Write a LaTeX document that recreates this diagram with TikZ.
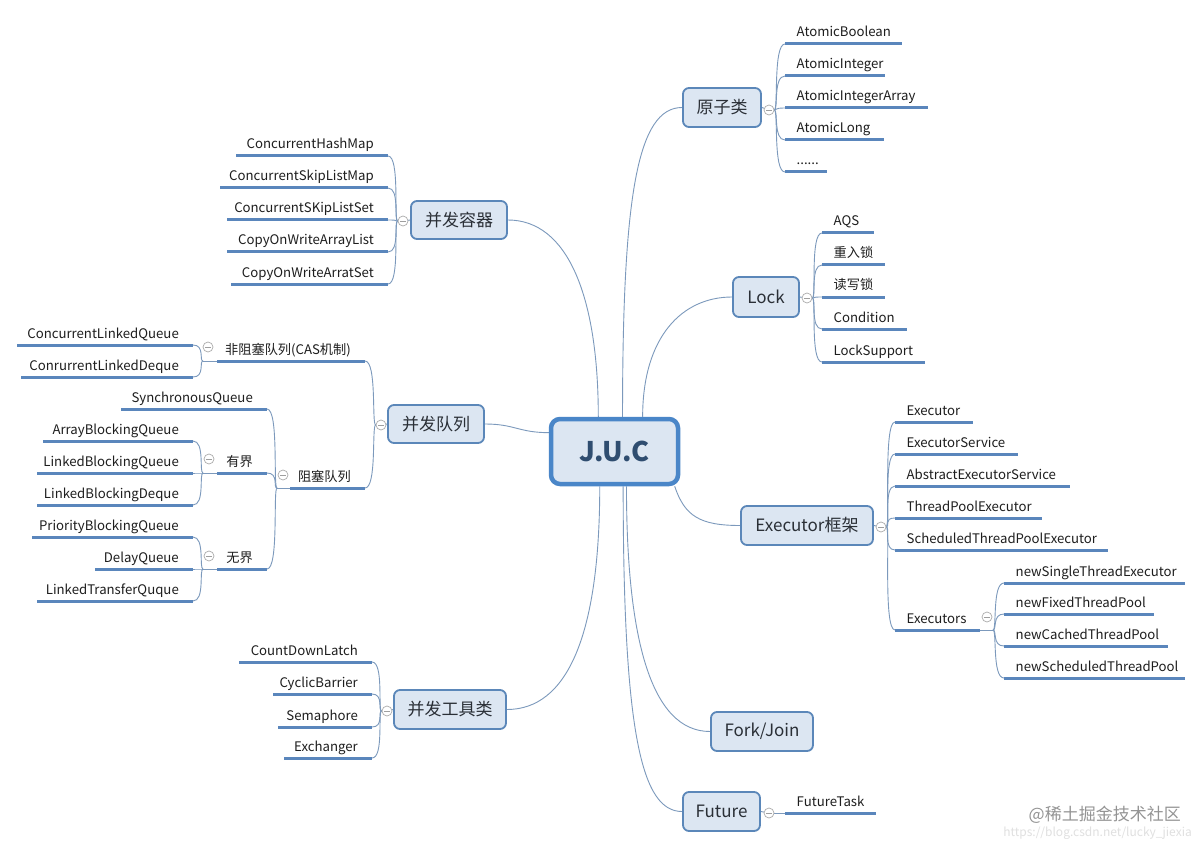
\documentclass[tikz,border=0pt]{standalone}
\usepackage{fontspec}
\setmainfont{Noto Sans CJK SC}
\usetikzlibrary{calc,backgrounds}
\definecolor{boxfill}{HTML}{DCE6F2}
\definecolor{boxdraw}{HTML}{5B87B9}
\definecolor{jucdraw}{HTML}{4A86C8}
\definecolor{leafc}{HTML}{5A86BC}
\definecolor{connc}{HTML}{7C99BC}
\definecolor{txt}{HTML}{1E1E1E}
\definecolor{boxtxt}{HTML}{2A2F36}
\definecolor{juctxt}{HTML}{2F4D70}
\tikzset{
 mainbox/.style={draw=boxdraw, fill=boxfill, line width=1.8pt, rounded corners=6pt, font=\fontsize{17}{20}\selectfont, text=boxtxt, inner sep=0pt},
 jucbox/.style={draw=jucdraw, fill=boxfill, line width=4.5pt, rounded corners=9pt, font=\fontsize{27}{30}\selectfont\bfseries, text=juctxt, inner sep=0pt},
 leafline/.style={draw=leafc, line width=3pt},
 leaftext/.style={font=\fontsize{13.2}{16}\selectfont, text=txt, inner sep=0pt},
 conn/.style={draw=connc, line width=0.9pt},
 collapse/.style={circle, draw=gray!65, fill=white, line width=0.7pt, minimum size=10pt, inner sep=0pt,
   path picture={\draw[gray!75, line width=0.7pt] ([xshift=-2.6pt]path picture bounding box.center) -- ([xshift=2.6pt]path picture bounding box.center);}},
}
\newcommand{\RLeaf}[5]{%
 \coordinate (#1-s) at (#2,#4);
 \coordinate (#1-e) at (#3,#4);
 \draw[leafline] (#1-s) -- (#1-e);
 \node[leaftext, anchor=base west] (#1) at ([shift={(11.5pt,7pt)}]#1-s) {#5};
}
\newcommand{\LLeaf}[5]{%
 \coordinate (#1-s) at (#2,#4);
 \coordinate (#1-e) at (#3,#4);
 \draw[leafline] (#1-s) -- (#1-e);
 \node[leaftext, anchor=base east] (#1) at ([shift={(-14pt,7pt)}]#1-e) {#5};
}
\newcommand{\RConn}[2]{\draw[conn] (#1) .. controls +(4,0) and +(-12,0) .. (#2);}
\newcommand{\LConn}[2]{\draw[conn] (#1) .. controls +(-4,0) and +(12,0) .. (#2);}
\begin{document}
\begin{tikzpicture}[x=1pt,y=-1pt]
\useasboundingbox (0,0) rectangle (1204,850);
% central and main boxes
\node[jucbox, minimum width=127pt, minimum height=65pt] (juc) at (614.5,451.5) {J.U.C};
\node[mainbox, minimum width=78pt, minimum height=39pt] (yz) at (722,107.5) {原子类};
\node[mainbox, minimum width=96pt, minimum height=38pt] (rq) at (459,220) {并发容器};
\node[mainbox, minimum width=66pt, minimum height=40pt] (lock) at (766,297) {Lock};
\node[mainbox, minimum width=96pt, minimum height=38pt] (dl) at (436,424) {并发队列};
\node[mainbox, minimum width=132pt, minimum height=39pt] (ex) at (807,525.5) {Executor框架};
\node[mainbox, minimum width=112pt, minimum height=39pt] (gj) at (450,709.5) {并发工具类};
\node[mainbox, minimum width=102pt, minimum height=39pt] (fj) at (762,731.5) {Fork/Join};
\node[mainbox, minimum width=77pt, minimum height=39pt] (fu) at (721.5,811.5) {Future};
% leaves: 原子类
\RLeaf{a1}{785}{902}{44}{AtomicBoolean}
\RLeaf{a2}{785}{885}{76}{AtomicInteger}
\RLeaf{a3}{785}{928}{108}{AtomicIntegerArray}
\RLeaf{a4}{785}{884}{140}{AtomicLong}
\RLeaf{a5}{785}{827}{172}{......}
% Lock
\RLeaf{l1}{822}{874}{233}{AQS}
\RLeaf{l2}{822}{885}{265}{重入锁}
\RLeaf{l3}{822}{885}{297}{读写锁}
\RLeaf{l4}{822}{907}{329}{Condition}
\RLeaf{l5}{822}{925}{362}{LockSupport}
% Executor
\RLeaf{e1}{895}{973}{422}{Executor}
\RLeaf{e2}{895}{1018}{454}{ExecutorService}
\RLeaf{e3}{895}{1070}{486}{AbstractExecutorService}
\RLeaf{e4}{895}{1042}{518}{ThreadPoolExecutor}
\RLeaf{e5}{895}{1108}{550}{ScheduledThreadPoolExecutor}
\RLeaf{e6}{895}{980}{630}{Executors}
\coordinate (e6j) at (993,630);
\RLeaf{n1}{1004}{1185}{583}{newSingleThreadExecutor}
\RLeaf{n2}{1004}{1154}{614}{newFixedThreadPool}
\RLeaf{n3}{1004}{1168}{646}{newCachedThreadPool}
\RLeaf{n4}{1004}{1185}{678}{newScheduledThreadPool}
% Future
\RLeaf{ft}{785}{876}{813}{FutureTask}
% 并发容器
\LLeaf{r1}{236}{388}{156}{ConcurrentHashMap}
\LLeaf{r2}{220}{388}{188}{ConcurrentSkipListMap}
\LLeaf{r3}{227}{388}{220}{ConcurrentSKipListSet}
\LLeaf{r4}{227}{388}{252}{CopyOnWriteArrayList}
\LLeaf{r5}{231}{388}{284}{CopyOnWriteArratSet}
% 并发队列
\LLeaf{q1}{217}{365}{361}{非阻塞队列(CAS机制)}
\coordinate (q1j) at (203,361);
\LLeaf{q11}{17}{193}{345}{ConcurrentLinkedQueue}
\LLeaf{q12}{21}{193}{377}{ConrurrentLinkedDeque}
\LLeaf{q2}{290}{365}{488}{阻塞队列}
\coordinate (q2j) at (277,488);
\LLeaf{q21}{121}{267}{409}{SynchronousQueue}
\LLeaf{q22}{217}{267}{473}{有界}
\coordinate (q22j) at (203,473);
\LLeaf{q221}{43}{193}{441}{ArrayBlockingQueue}
\LLeaf{q222}{37}{193}{473}{LinkedBlockingQueue}
\LLeaf{q223}{37}{193}{505}{LinkedBlockingDeque}
\LLeaf{q23}{217}{267}{569}{无界}
\coordinate (q23j) at (203,569);
\LLeaf{q231}{32}{193}{537}{PriorityBlockingQueue}
\LLeaf{q232}{95}{193}{569}{DelayQueue}
\LLeaf{q233}{37}{193}{601}{LinkedTransferQuque}
% 并发工具类
\LLeaf{g1}{239}{372}{662}{CountDownLatch}
\LLeaf{g2}{273}{372}{694}{CyclicBarrier}
\LLeaf{g3}{278}{372}{727}{Semaphore}
\LLeaf{g4}{284}{372}{758}{Exchanger}
% collapse markers
\node[collapse] (yzc) at (769,110) {};
\node[collapse] (lockc) at (807,298) {};
\node[collapse] (exc) at (881,527) {};
\node[collapse] (fuc) at (769,813) {};
\node[collapse] (e6c) at (987,617) {};
\node[collapse] (rqc) at (403,221) {};
\node[collapse] (dlc) at (381,425) {};
\node[collapse] (gjc) at (387,711) {};
\node[collapse] (q1c) at (208,347) {};
\node[collapse] (q2c) at (283,475) {};
\node[collapse] (q22c) at (209,459) {};
\node[collapse] (q23c) at (209,556) {};
% watermark
\node[font=\fontsize{17}{20}\selectfont, text=black!42, anchor=east, inner sep=0pt] (wm) at (1181,815) {@稀土掘金技术社区};
\node[font=\fontsize{12}{14}\selectfont, text=black!12, anchor=east, inner sep=0pt] (url) at (1192,833) {https://blog.csdn.net/lucky\_jiexia};
\begin{pgfonlayer}{background}
\fill[white] (0,0) rectangle (1204,850);
% main tree
\draw[conn] (juc.77) .. controls +(0,-220) and +(-45,0) .. (yz.west);
\draw[conn] (juc.115) .. controls +(0,-120) and +(60,0) .. (rq.east);
\draw[conn] (juc.51) .. controls +(0,-80) and +(-50,0) .. (lock.west);
\draw[conn] (juc.164) .. controls +(-30,0) and +(30,0) .. (dl.east);
\draw[conn] (juc.-30) .. controls +(10,30) and +(-40,0) .. (ex.west);
\draw[conn] (juc.-113) .. controls +(0,150) and +(60,0) .. (gj.east);
\draw[conn] (juc.-71) .. controls +(0,150) and +(-60,0) .. (fj.west);
\draw[conn] (juc.-76) .. controls +(0,250) and +(-40,0) .. (fu.west);
% box to marker
\draw[conn] (yz.east) -- (yzc.center);
\draw[conn] (lock.east) -- (lockc.center);
\draw[conn] (ex.east) -- (exc.center);
\draw[conn] (fu.east) -- (fuc.center);
\draw[conn] (rq.west) -- (rqc.center);
\draw[conn] (dl.west) -- (dlc.center);
\draw[conn] (gj.west) -- (gjc.center);
\draw[conn] (fuc.east) -- (ft-s);
% branches
\foreach \c in {a1,a2,a3,a4,a5} {\RConn{yzc.east}{\c-s}}
\foreach \c in {l1,l2,l3,l4,l5} {\RConn{lockc.east}{\c-s}}
\foreach \c in {e1,e2,e3,e4,e5,e6} {\RConn{exc.east}{\c-s}}
\draw[conn] (e6-e) -- (e6j);
\foreach \c in {n1,n2,n3,n4} {\RConn{e6j}{\c-s}}
\foreach \c in {r1,r2,r3,r4,r5} {\LConn{rqc.west}{\c-e}}
\foreach \c in {q1,q2} {\LConn{dlc.west}{\c-e}}
\draw[conn] (q1-s) -- (q1j);
\foreach \c in {q11,q12} {\LConn{q1j}{\c-e}}
\draw[conn] (q2-s) -- (q2j);
\foreach \c in {q21,q22,q23} {\LConn{q2j}{\c-e}}
\draw[conn] (q22-s) -- (q22j);
\foreach \c in {q221,q222,q223} {\LConn{q22j}{\c-e}}
\draw[conn] (q23-s) -- (q23j);
\foreach \c in {q231,q232,q233} {\LConn{q23j}{\c-e}}
\foreach \c in {g1,g2,g3,g4} {\LConn{gjc.west}{\c-e}}
\end{pgfonlayer}
\end{tikzpicture}
\end{document}
